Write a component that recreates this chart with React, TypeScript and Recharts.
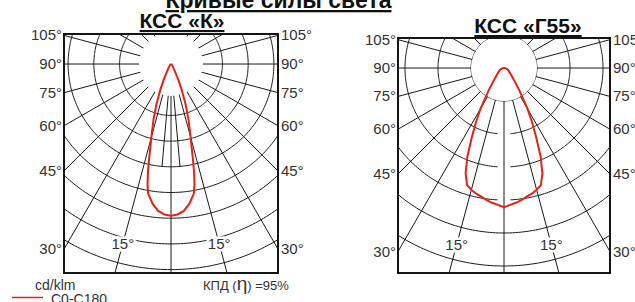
import { ScatterChart, Scatter, XAxis, YAxis } from 'recharts';

// angle from nadir (deg) and intensity, cd/klm — curve "К", plane C0-C180
const kAngles = [0, 2.5, 5, 7.5, 10, 11, 12, 13, 14, 15, 17.5, 20, 22.5, 25, 30, 40, 50, 60, 90];
const kValues = [295, 293, 287, 274, 256, 239, 216, 189, 165, 148, 113, 82, 54, 34, 12, 4, 2, 1, 0];

// curve "Г55"
const gAngles = [0, 5, 7.5, 10, 12.5, 15, 17.5, 20, 22.5, 25, 27.5, 30, 35, 40, 50, 60, 70, 80, 90];
const gValues = [211, 205, 202, 198, 195, 191, 186, 170, 145, 115, 91, 71, 39, 23, 12, 8, 5, 2, 0];

// angle tick labels
const sideAngles = [105, 90, 75, 60, 45, 30];
const sideLabels = ['105°', '90°', '75°', '60°', '45°', '30°'];
const innerAngles = [15];
const innerLabels = ['15°'];

const GRID = '#1a1a1a';
const RED = '#e2231a';
const TXT = '#333';
const FONT = '"Liberation Sans", Arial, sans-serif';

type Pt = { x: number; y: number; label?: string; side?: number; inner?: boolean };
type Box = { x0: number; x1: number; y0: number; y1: number };

const rad = (d: number) => (d * Math.PI) / 180;
const polar = (deg: number, r: number): Pt => ({ x: r * Math.sin(rad(deg)), y: -r * Math.cos(rad(deg)) });

function clipSeg(a: Pt, b: Pt, box: Box) {
  const dx = b.x - a.x, dy = b.y - a.y;
  const p = [-dx, dx, -dy, dy];
  const q = [a.x - box.x0, box.x1 - a.x, a.y - box.y0, box.y1 - a.y];
  let t0 = 0, t1 = 1;
  for (let i = 0; i < 4; i++) {
    if (p[i] === 0) {
      if (q[i] < 0) return null;
      continue;
    }
    const t = q[i] / p[i];
    if (p[i] < 0) {
      if (t > t1) return null;
      if (t > t0) t0 = t;
    } else {
      if (t < t0) return null;
      if (t < t1) t1 = t;
    }
  }
  return { t0, t1, a: { x: a.x + t0 * dx, y: a.y + t0 * dy }, b: { x: a.x + t1 * dx, y: a.y + t1 * dy } };
}

function clip(pts: Pt[], box: Box): Pt[][] {
  const runs: Pt[][] = [];
  let cur: Pt[] | null = null;
  for (let i = 0; i < pts.length - 1; i++) {
    const s = clipSeg(pts[i], pts[i + 1], box);
    if (!s) { cur = null; continue; }
    if (cur && s.t0 === 0) cur.push(s.b);
    else { cur = [s.a, s.b]; runs.push(cur); }
    if (s.t1 < 1) cur = null;
  }
  return runs;
}

function arc(r: number, from: number, to: number): Pt[] {
  const pts: Pt[] = [];
  for (let a = from; a < to; a += 1) pts.push(polar(a, r));
  pts.push(polar(to, r));
  return pts;
}

const noShape = () => <g />;

type PanelProps = {
  left: number; width: number;
  margin: { top: number; right: number; bottom: number; left: number };
  xHalf: number; yTop: number; yBottom: number;
  step: number; rings: number; gapRings: number[]; gapPx: number;
  diskPx: number; minorAngles: number[]; minorTo: number; innerR: number;
  angles: number[]; values: number[];
};

function Panel(p: PanelProps) {
  const box: Box = { x0: -p.xHalf, x1: p.xHalf, y0: -p.yBottom, y1: p.yTop };
  const pxPerUnit = (p.width - p.margin.left - p.margin.right) / (2 * p.xHalf);

  const grid: Pt[][] = [];
  for (let k = 1; k <= p.rings; k++) {
    const r = k * p.step;
    if (p.gapRings.includes(k)) {
      const g = ((p.gapPx / (r * pxPerUnit)) * 180) / Math.PI;
      grid.push(...clip(arc(r, -180, -g), box), ...clip(arc(r, g, 180), box));
    } else {
      grid.push(...clip(arc(r, -180, 180), box));
    }
  }
  for (let a = -165; a <= 180; a += 15) grid.push(...clip([{ x: 0, y: 0 }, polar(a, 5000)], box));
  // short spokes near the nadir
  p.minorAngles.forEach((a) => {
    grid.push(...clip([{ x: 0, y: 0 }, polar(-a, p.minorTo)], box));
    grid.push(...clip([{ x: 0, y: 0 }, polar(a, p.minorTo)], box));
  });

  const curve: Pt[] = [
    ...p.angles.map((a, i) => polar(-a, p.values[i])).reverse(),
    ...p.angles.slice(1).map((a, i) => polar(a, p.values[i + 1])),
  ];

  const labels: Pt[] = [];
  sideAngles.forEach((A, i) => {
    [-1, 1].forEach((side) => {
      const d = polar(side * A, 1);
      const tx = p.xHalf / Math.abs(d.x);
      const ty = d.y > 0 ? p.yTop / d.y : p.yBottom / -d.y;
      const t = Math.min(tx, ty);
      labels.push({ x: d.x * t, y: d.y * t, label: sideLabels[i], side });
    });
  });
  innerAngles.forEach((A, i) => {
    [-1, 1].forEach((side) => {
      const pt = polar(side * A, p.innerR);
      labels.push({ ...pt, label: innerLabels[i], side, inner: true });
    });
  });

  const labelShape = (s: any) => {
    const d: Pt = s.payload;
    if (d.inner) {
      return (
        <text x={s.cx} y={s.cy + 5} textAnchor="middle" fontSize={15} fontFamily={FONT} fill={TXT}
          stroke="#fff" strokeWidth={5} paintOrder="stroke">{d.label}</text>
      );
    }
    return (
      <text x={s.cx + (d.side! < 0 ? -2 : 3)} y={s.cy + 5} textAnchor={d.side! < 0 ? 'end' : 'start'}
        fontSize={15} fontFamily={FONT} fill={TXT}>{d.label}</text>
    );
  };

  return (
    <div style={{ position: 'absolute', left: p.left, top: 0 }}>
      <ScatterChart width={p.width} height={302} margin={p.margin}>
        <XAxis type="number" dataKey="x" domain={[-p.xHalf, p.xHalf]} hide />
        <YAxis type="number" dataKey="y" domain={[-p.yBottom, p.yTop]} hide />
        {grid.map((d, i) => (
          <Scatter key={'g' + i} data={d} line={{ stroke: GRID, strokeWidth: 1 }} shape={noShape}
            isAnimationActive={false} legendType="none" />
        ))}
        <Scatter data={[{ x: 0, y: 0 }]} isAnimationActive={false}
          shape={(s: any) => <circle cx={s.cx} cy={s.cy} r={p.diskPx} fill="#fff" />} />
        <Scatter data={curve} line={{ stroke: RED, strokeWidth: 2 }} shape={noShape} isAnimationActive={false} />
        <Scatter data={labels} shape={labelShape} isAnimationActive={false} />
      </ScatterChart>
      <div style={{
        position: 'absolute', left: p.margin.left - 1, top: p.margin.top - 1,
        width: p.width - p.margin.left - p.margin.right + 2, height: 302 - p.margin.top - p.margin.bottom + 2,
        border: '2px solid #151515', boxSizing: 'border-box', pointerEvents: 'none',
      }} />
    </div>
  );
}

export default function App() {
  return (
    <div style={{ position: 'fixed', left: 0, top: 0, width: 635, height: 302, overflow: 'hidden', background: '#fff' }}>
      <Panel left={0} width={320} margin={{ top: 34, left: 64, right: 42, bottom: 29 }}
        xHalf={208} yTop={58.4} yBottom={406.6} step={50} rings={8} gapRings={[]} gapPx={0}
        diskPx={32} minorAngles={[5]} minorTo={200} innerR={362} angles={kAngles} values={kValues} />
      <Panel left={320} width={315} margin={{ top: 38, left: 78, right: 25, bottom: 29 }}
        xHalf={160.6} yTop={45.5} yBottom={310.6} step={50} rings={7} gapRings={[2, 3, 4]} gapPx={6.5}
        diskPx={33} minorAngles={[]} minorTo={0} innerR={277} angles={gAngles} values={gValues} />
      <svg width={635} height={302} style={{ position: 'absolute', left: 0, top: 0, pointerEvents: 'none' }}>
        <g fontFamily={FONT} fill="#111">
          <text x={278.5} y={8} fontSize={23} fontWeight="bold" textAnchor="middle" textDecoration="underline">Кривые силы света</text>
          <text x={182} y={28} fontSize={21} fontWeight="bold" textAnchor="middle" textDecoration="underline">КСС «К»</text>
          <text x={528} y={33} fontSize={21} fontWeight="bold" textAnchor="middle" textDecoration="underline">КСС «Г55»</text>
        </g>
        <g fontFamily={FONT} fill={TXT}>
          <text x={35} y={290} fontSize={14}>cd/klm</text>
          <text x={203} y={290} fontSize={13}>КПД (<tspan fontSize={19}>η</tspan>) =95%</text>
          <line x1={12} y1={297.5} x2={43} y2={297.5} stroke={RED} strokeWidth={1.5} />
          <text x={51} y={304} fontSize={14}>C0-C180</text>
        </g>
      </svg>
    </div>
  );
}
